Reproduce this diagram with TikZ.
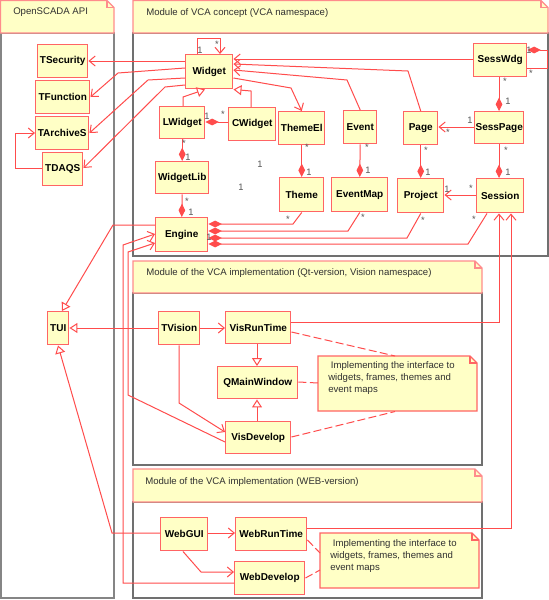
\documentclass[tikz,border=0pt]{standalone}
\usepackage{fontspec}
\setmainfont{Liberation Sans}
\usetikzlibrary{arrows.meta}
\definecolor{boxfill}{HTML}{FFFFC6}
\definecolor{boxred}{HTML}{FF6464}
\definecolor{linered}{HTML}{FF4C4C}
\definecolor{hdrred}{HTML}{FF8C8C}
\definecolor{framegray}{HTML}{707070}
\definecolor{lblgray}{HTML}{555555}
\definecolor{txtdark}{HTML}{303030}
\newcommand\cbox[6]{\node[cls, anchor=north west, minimum width={(#4-#2)*0.75pt}, minimum height={(#5-#3)*0.75pt}] (#1) at (#2,#3) {#6};}
\newcommand\mlab[4]{\node[mult] (#1) at (#2,#3) {#4};}
\newcommand\foldbox[5]{%
  \draw[#5] (#1,#2) -- (#3-7,#2) -- (#3,#2+7) -- (#3,#4) -- (#1,#4) -- cycle;
  \draw[#5, fill=none] (#3-7,#2) -- (#3-7,#2+7) -- (#3,#2+7);}
\begin{document}
\begin{tikzpicture}[x=0.75pt,y=-0.75pt,
  cls/.style={draw=boxred, fill=boxfill, line width=1.1pt, inner sep=0pt,
    font=\bfseries\fontsize{7.5}{9}\selectfont},
  conn/.style={draw=linered, line width=0.75pt},
  assoc/.style={conn, -{Straight Barb[length=4.5pt,width=7.5pt]}},
  gen/.style={conn, -{Triangle[open,length=6pt,width=7.5pt,fill=white]}},
  comp/.style={conn, -{Diamond[length=10pt,width=5pt]}},
  notelink/.style={conn, dash pattern=on 6pt off 2.5pt},
  mult/.style={font=\fontsize{7}{8}\selectfont, text=lblgray, inner sep=0pt},
  hdr/.style={draw=hdrred, fill=boxfill, line width=0.9pt},
  notebox/.style={draw=boxred, fill=boxfill, line width=0.9pt},
  hdrtext/.style={font=\fontsize{7.2}{9}\selectfont, text=txtdark, anchor=west, inner sep=0pt},
  notetext/.style={font=\fontsize{7.2}{9}\selectfont, text=txtdark, anchor=north west, inner sep=0pt, align=left},
  body/.style={draw=framegray, line width=0.9pt}
]
\useasboundingbox (0,0) rectangle (549,600);
\fill[white] (0,0) rectangle (549,600);

% ---------- package frames ----------
\draw[body, line width=1.3pt, draw=framegray!85] (1,33) rectangle (114,598);
\draw[body] (133,33) rectangle (548,256);
\draw[body] (133,293) rectangle (482,465);
\draw[body] (133,502) rectangle (482,598);
\foldbox{0.5}{0.5}{114}{33}{hdr}
\foldbox{133}{0.5}{548}{33}{hdr}
\foldbox{133}{261}{482}{293}{hdr}
\foldbox{133}{469}{482}{502}{hdr}
\node[hdrtext] (h1) at (13,12) {OpenSCADA API};
\node[hdrtext] (h2) at (146,13) {Module of VCA concept (VCA namespace)};
\node[hdrtext] (h3) at (146,273) {Module of the VCA implementation (Qt-version, Vision namespace)};
\node[hdrtext] (h4) at (145,482) {Module of the VCA implementation (WEB-version)};

% ---------- notes ----------
\foldbox{318}{356}{477}{411}{notebox}
\foldbox{320}{533}{479}{588}{notebox}
\node[draw=none, anchor=north west, minimum width={159*0.75pt}, minimum height={55*0.75pt}, inner sep=0pt] (NoteQt) at (318,356) {};
\node[draw=none, anchor=north west, minimum width={159*0.75pt}, minimum height={55*0.75pt}, inner sep=0pt] (NoteWeb) at (320,533) {};
\node[notetext] (nt1) at (328,361) {\ Implementing the interface to\\widgets, frames, themes and\\event maps};
\node[notetext] (nt2) at (330,539) {\ Implementing the interface to\\widgets, frames, themes and\\event maps};

% ---------- classes ----------
\cbox{TSecurity}{37}{44}{87}{77}{TSecurity}
\cbox{TFunction}{35}{80}{89}{113}{TFunction}
\cbox{TArchiveS}{35}{116}{88}{149}{TArchiveS}
\cbox{TDAQS}{42}{152}{82}{185}{TDAQS}
\cbox{TUI}{47}{311}{68}{344}{TUI}
\cbox{Widget}{185}{54}{232}{88}{Widget}
\cbox{LWidget}{159}{106}{204}{138}{LWidget}
\cbox{CWidget}{228}{107}{275}{140}{CWidget}
\cbox{WidgetLib}{155}{161}{208}{193}{WidgetLib}
\cbox{Engine}{155}{217}{207}{251}{Engine}
\cbox{ThemeEl}{278}{111}{324}{144}{ThemeEl}
\cbox{Event}{343}{110}{376}{143}{Event}
\cbox{Page}{403}{111}{437}{144}{Page}
\cbox{SessPage}{474}{111}{523}{143}{SessPage}
\cbox{SessWdg}{473}{43}{526}{76}{SessWdg}
\cbox{Theme}{279}{177}{323}{211}{Theme}
\cbox{EventMap}{331}{177}{387}{211}{EventMap}
\cbox{Project}{397}{178}{443}{212}{Project}
\cbox{Session}{476}{178}{523}{212}{Session}
\cbox{TVision}{158}{311}{199}{344}{TVision}
\cbox{VisRunTime}{225}{311}{290}{343}{VisRunTime}
\cbox{QMainWindow}{217}{366}{297}{398}{QMainWindow}
\cbox{VisDevelop}{225}{421}{290}{453}{VisDevelop}
\cbox{WebGUI}{160}{517}{207}{550}{WebGUI}
\cbox{WebRunTime}{235}{517}{306}{550}{WebRunTime}
\cbox{WebDevelop}{234}{561}{304}{594}{WebDevelop}

% ---------- associations ----------
\draw[assoc] (Widget.west |- 0,61) -- (TSecurity.east |- 0,61);
\draw[assoc] (Widget.west |- 0,68) -- (118,73) -- (TFunction.east |- 0,97);
\draw[assoc] (Widget.west |- 0,78) -- (148,80) -- (TArchiveS.east |- 0,133);
\draw[assoc] (Widget.west |- 0,85) -- (165,87) -- (TDAQS.east |- 0,168);
\draw[assoc] (TDAQS.west |- 0,168) -- (15,168) -- (15,133) -- (TArchiveS.west |- 0,133);
\draw[assoc] (Widget.north -| 197,0) -- (197,38) -- (220,38) -- (Widget.north -| 220,0);
\draw[assoc] (SessWdg.west |- 0,59) -- (Widget.east |- 0,59);
\draw[assoc] (Page.north) -- (408,71) -- (Widget.east |- 0,64);
\draw[assoc] (Event.north) -- (347,80) -- (Widget.east |- 0,70);
\draw[assoc] (Widget.east |- 0,78) -- (291,88) -- (ThemeEl.north);
\draw[assoc] (SessPage.west |- 0,127) -- (Page.east |- 0,127);
\draw[assoc] (Session.west |- 0,195) -- (Project.east |- 0,195);
\draw[assoc] (TVision.east |- 0,328) -- (VisRunTime.west |- 0,328);
\draw[assoc] (TVision.south -| 179,0) -- (179,403) -- (VisDevelop.west |- 0,432);
\draw[assoc] (VisRunTime.east |- 0,322) -- (499,322) -- (Session.south -| 499,0);
\draw[assoc] (WebRunTime.east |- 0,528) -- (511,528) -- (Session.south -| 511,0);
\draw[assoc] (VisDevelop.west |- 0,442) -- (128,395) -- (128,252) -- (Engine.west |- 0,243);
\draw[assoc] (WebDevelop.west |- 0,583) -- (123,583) -- (123,245) -- (Engine.west |- 0,234);
\draw[assoc] (WebGUI.east |- 0,533) -- (WebRunTime.west |- 0,533);
\draw[assoc] (WebGUI.south -| 183,0) -- (201,572) -- (WebDevelop.west |- 0,572);

% ---------- generalizations ----------
\draw[gen] (LWidget.north -| 183,0) -- (183,97) -- (Widget.south -| 205,0);
\draw[gen] (CWidget.north -| 251,0) -- (251,91) -- (Widget.south east);
\draw[gen] (VisRunTime.south -| 257,0) -- (QMainWindow.north -| 257,0);
\draw[gen] (VisDevelop.north -| 257,0) -- (QMainWindow.south -| 257,0);
\draw[gen] (Engine.west |- 0,225) -- (113,225) -- (TUI.north -| 62,0);
\draw[gen] (TVision.west |- 0,328) -- (TUI.east |- 0,328);
\draw[gen] (WebGUI.west |- 0,533) -- (112,533) -- (TUI.south -| 58,0);

% ---------- compositions ----------
\draw[comp] (CWidget.west |- 0,122) -- (LWidget.east |- 0,122);
\draw[comp] (LWidget.south) -- (WidgetLib.north);
\draw[comp] (WidgetLib.south) -- (Engine.north);
\draw[comp] (ThemeEl.south) -- (Theme.north);
\draw[comp] (Event.south) -- (EventMap.north);
\draw[comp] (Page.south) -- (Project.north);
\draw[comp] (SessPage.south -| 499,0) -- (Session.north -| 499,0);
\draw[comp] (SessWdg.south -| 499,0) -- (SessPage.north -| 499,0);
\draw[comp] (SessWdg.east |- 0,68) -- (547,68) -- (547,50) -- (SessWdg.east |- 0,50);
\draw[comp] (Theme.south) -- (293,224) -- (Engine.east |- 0,224);
\draw[comp] (EventMap.south) -- (348,231) -- (Engine.east |- 0,231);
\draw[comp] (Project.south) -- (407,238) -- (Engine.east |- 0,238);
\draw[comp] (Session.south -| 487,0) -- (468,244) -- (Engine.east |- 0,244);

% ---------- note links ----------
\draw[notelink] (VisRunTime.east |- 0,332) -- (NoteQt.north -| 395,0);
\draw[notelink] (QMainWindow.east |- 0,382) -- (NoteQt.west |- 0,383);
\draw[notelink] (VisDevelop.east |- 0,437) -- (NoteQt.south -| 395,0);
\draw[notelink] (WebRunTime.east |- 0,540) -- (NoteWeb.west |- 0,553);
\draw[notelink] (WebDevelop.east |- 0,578) -- (NoteWeb.west |- 0,570);

% ---------- multiplicities ----------
\mlab{m1}{200}{50}{1}
\mlab{m2}{217}{44}{*}
\mlab{m3}{207}{116}{1}
\mlab{m4}{223}{114}{*}
\mlab{m5}{184}{143}{*}
\mlab{m6}{188}{157}{1}
\mlab{m7}{187}{201}{*}
\mlab{m8}{191}{212}{1}
\mlab{m9}{260}{164}{1}
\mlab{m10}{241}{187}{1}
\mlab{m11}{209}{237}{1}
\mlab{m12}{307}{147}{*}
\mlab{m13}{309}{172}{1}
\mlab{m14}{367}{147}{*}
\mlab{m15}{368}{170}{1}
\mlab{m16}{426}{150}{*}
\mlab{m17}{428}{172}{1}
\mlab{m18}{506}{150}{*}
\mlab{m19}{508}{172}{1}
\mlab{m20}{505}{81}{*}
\mlab{m21}{508}{101}{1}
\mlab{m22}{529}{50}{1}
\mlab{m23}{531}{73}{*}
\mlab{m24}{470}{120}{1}
\mlab{m25}{448}{132}{*}
\mlab{m26}{447}{189}{1}
\mlab{m27}{471}{188}{*}
\mlab{m28}{288}{219}{*}
\mlab{m29}{363}{217}{*}
\mlab{m30}{423}{220}{*}
\mlab{m31}{474}{219}{*}
\end{tikzpicture}
\end{document}
